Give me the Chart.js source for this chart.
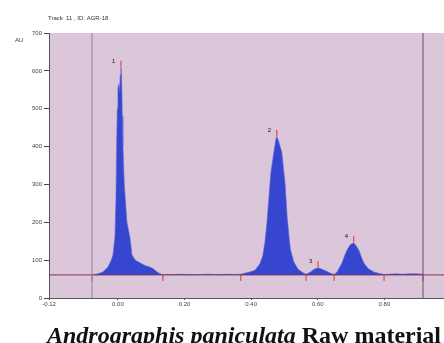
<!DOCTYPE html>
<html>
<head>
<meta charset="utf-8">
<script src="https://cdn.jsdelivr.net/npm/chart.js@4.4.1/dist/chart.umd.min.js"></script>
<style>
  body { margin: 0; background: #fff; overflow: hidden; }
  #wrap { position: relative; width: 444px; height: 343px; overflow: hidden; }
  #caption {
    position: absolute; left: 47px; top: 323px; white-space: nowrap;
    font-family: "Liberation Serif", "Times New Roman", serif;
    font-weight: bold; font-size: 24px; line-height: 24px; color: #111;
  }
</style>
</head>
<body>
<div id="wrap">
  <canvas id="densitogram" width="444" height="343"></canvas>
  <div id="caption"><i>Andrographis paniculata</i> Raw material</div>
</div>
<script>
/* Data */
const trackTitle = 'Track  11 , ID: AGR-18';

// Rf positions and signal (AU) of the scanned track
const rfValues = [
  -0.078, -0.060, -0.045, -0.030, -0.020, -0.015, -0.009, -0.006, -0.004, -0.002,
  0.000, 0.003, 0.005, 0.007, 0.009, 0.011, 0.013, 0.015, 0.019, 0.027,
  0.036, 0.042, 0.052, 0.066, 0.081, 0.096, 0.108, 0.117, 0.127, 0.135,
  0.150, 0.170, 0.190, 0.210, 0.230, 0.250, 0.270, 0.290, 0.310, 0.330, 0.350,
  0.369, 0.393, 0.411, 0.426, 0.435, 0.441, 0.447, 0.453, 0.459, 0.468,
  0.474, 0.477, 0.482, 0.492, 0.502, 0.508, 0.514, 0.518, 0.528, 0.541, 0.553, 0.565,
  0.577, 0.589, 0.601, 0.613, 0.628, 0.640, 0.649,
  0.658, 0.673, 0.682, 0.688, 0.697, 0.708, 0.715, 0.723, 0.730, 0.738,
  0.751, 0.768, 0.784, 0.799,
  0.815, 0.835, 0.855, 0.875, 0.895, 0.916
];
const auValues = [
  61, 64, 69, 82, 100, 114, 162, 260, 400, 500,
  555, 565, 545, 590, 610, 590, 480, 400, 300, 200,
  160, 114, 100, 93, 86, 82, 76, 69, 64, 61,
  62, 62, 63, 62, 62, 62, 63, 62, 62, 63, 62,
  63, 68, 73, 90, 112, 145, 195, 262, 330, 385,
  418, 427, 415, 385, 300, 215, 158, 128, 95, 76, 68, 63,
  68, 76, 80, 76, 70, 65, 62,
  69, 93, 115, 127, 140, 146, 138, 127, 110, 93,
  78, 69, 65, 62,
  63, 64, 63, 64, 64, 63
];

// peaks: number, apex position and height
const peakNumbers = ['1', '2', '3', '4'];
const peakRf = [0.009, 0.477, 0.601, 0.708];
const peakAU = [610, 427, 80, 146];

// integration boundaries (start / end marks on the baseline)
const boundaryRf = [-0.078, 0.135, 0.369, 0.565, 0.649, 0.799, 0.916];
const baselineAU = 61;

// application start line and solvent front
const startLineRf = -0.078;
const frontLineRf = 0.916;

// axes
const xMin = -0.207;
const xMax = 0.979;
const xTickValues = [-0.207, 0.0, 0.2, 0.4, 0.6, 0.8];
const xTickLabels = ['-0.12', '0.00', '0.20', '0.40', '0.60', '0.80'];
const yMax = 700;
const yStep = 100;

/* Build datasets */
const signalPoints = rfValues.map((rf, i) => ({ x: rf, y: auValues[i] }));
const apexPoints = peakRf.map((rf, i) => ({ x: rf, y: peakAU[i] + 9 }));
const boundaryPoints = boundaryRf.map(rf => ({ x: rf, y: baselineAU - 8 }));

const axisFont = { family: 'Liberation Sans, Arial, sans-serif', size: 6 };

// Plot background + texts
const decorPlugin = {
  id: 'decor',
  beforeDraw(chart) {
    const { ctx, chartArea } = chart;
    ctx.save();
    ctx.fillStyle = '#dcc7da';
    ctx.fillRect(chartArea.left, chartArea.top, chartArea.right - chartArea.left, chartArea.bottom - chartArea.top);
    ctx.restore();
  },
  afterDraw(chart) {
    const { ctx, scales } = chart;
    ctx.save();
    ctx.fillStyle = '#333';
    ctx.font = '6px "Liberation Sans", Arial, sans-serif';
    ctx.textBaseline = 'middle';
    ctx.fillText(trackTitle, 48, 18);
    ctx.fillText('AU', 15, 40);
    // peak numbers
    ctx.fillStyle = '#111';
    peakNumbers.forEach((label, i) => {
      const px = scales.x.getPixelForValue(peakRf[i]);
      const py = scales.y.getPixelForValue(peakAU[i]);
      ctx.fillText(label, px - 9, py - 6);
    });
    ctx.restore();
  }
};

const canvas = document.getElementById('densitogram');
const ctx = canvas.getContext('2d');

const chart = new Chart(ctx, {
  type: 'line',
  data: {
    datasets: [
      {
        // start line
        data: [{ x: startLineRf, y: 0 }, { x: startLineRf, y: yMax }],
        borderColor: '#8d8796',
        borderWidth: 1,
        pointRadius: 0,
        fill: false
      },
      {
        // solvent front
        data: [{ x: frontLineRf, y: 0 }, { x: frontLineRf, y: yMax }],
        borderColor: '#5c5766',
        borderWidth: 1,
        pointRadius: 0,
        fill: false
      },
      {
        // baseline
        data: [{ x: xMin, y: baselineAU }, { x: xMax, y: baselineAU }],
        borderColor: '#7c3556',
        borderWidth: 1,
        pointRadius: 0,
        fill: false
      },
      {
        // signal
        data: signalPoints,
        borderColor: 'rgba(90, 100, 215, 0.6)',
        backgroundColor: '#3646cf',
        borderWidth: 1,
        pointRadius: 0,
        tension: 0,
        fill: { value: baselineAU }
      },
      {
        // apex marks
        type: 'scatter',
        data: apexPoints,
        pointStyle: 'line',
        rotation: 90,
        radius: 3,
        borderColor: '#e03030',
        borderWidth: 1
      },
      {
        // boundary marks
        type: 'scatter',
        data: boundaryPoints,
        pointStyle: 'line',
        rotation: 90,
        radius: 3,
        borderColor: '#e03030',
        borderWidth: 1
      }
    ]
  },
  options: {
    responsive: false,
    animation: false,
    layout: { autoPadding: false, padding: { top: 33, right: 0, left: 0, bottom: 0 } },
    plugins: {
      legend: { display: false },
      tooltip: { enabled: false }
    },
    scales: {
      x: {
        type: 'linear',
        min: xMin,
        max: xMax,
        afterFit: scale => { scale.height = 45; },
        afterBuildTicks: scale => {
          scale.ticks = xTickValues.map(v => ({ value: v }));
        },
        ticks: {
          font: axisFont,
          color: '#444',
          padding: 1,
          maxRotation: 0,
          callback: function (value) {
            const idx = xTickValues.findIndex(v => Math.abs(v - value) < 1e-6);
            return idx >= 0 ? xTickLabels[idx] : '';
          }
        },
        grid: { display: true, drawOnChartArea: false, drawTicks: true, tickLength: 2, color: '#555' },
        border: { display: true, color: '#555' }
      },
      y: {
        type: 'linear',
        min: 0,
        max: yMax,
        afterFit: scale => { scale.width = 49; },
        ticks: {
          stepSize: yStep,
          font: axisFont,
          color: '#444',
          padding: 2
        },
        grid: { display: true, drawOnChartArea: false, drawTicks: true, tickLength: 5, color: '#444' },
        border: { display: true, color: '#555' }
      }
    }
  },
  plugins: [decorPlugin]
});
</script>
</body>
</html>
